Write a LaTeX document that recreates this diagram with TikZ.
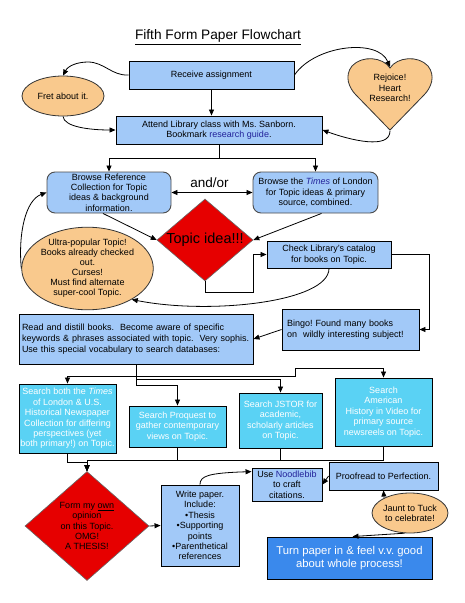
\documentclass[tikz,border=0pt]{standalone}
\usepackage{fontspec}
\setmainfont{Liberation Sans}
\usetikzlibrary{arrows.meta,shapes.geometric,calc}
\definecolor{lblue}{HTML}{A2C9F8}
\definecolor{orng}{HTML}{F9C98D}
\definecolor{dred}{HTML}{E60000}
\definecolor{cyanb}{HTML}{5AD2F4}
\definecolor{tblue}{HTML}{3A89EC}
\definecolor{linkb}{HTML}{22229A}
\newcommand\fsn{\fontsize{9}{10.4}\selectfont}
\frenchspacing
\begin{document}
\begin{tikzpicture}[x=1pt,y=-1pt,
  box/.style={draw=black, line width=0.9pt, fill=lblue, inner sep=0pt, align=center, font=\fsn},
  rbox/.style={box, draw=black!70, rounded corners=8pt},
  sbox/.style={box, fill=cyanb, text=white},
  oval/.style={ellipse, draw=black!80, line width=0.8pt, fill=orng, inner sep=0pt, align=center, font=\fsn},
  dia/.style={diamond, draw=black!60, line width=0.6pt, fill=dred, inner sep=0pt},
  lbl/.style={align=center, font=\fsn, inner sep=0pt},
  conn/.style={draw=black, line width=0.8pt, -{Triangle[length=6pt,width=5pt]}},
  dconn/.style={draw=black, line width=0.8pt, {Triangle[length=6pt,width=5pt]}-{Triangle[length=6pt,width=5pt]}}
]
\useasboundingbox (0,0) rectangle (464,603);
\fill[white] (0,0) rectangle (464,603);

% title
\node[inner sep=0pt, font=\fontsize{13.7}{16}\selectfont] (title) at (218,37) {\underline{Fifth Form Paper Flowchart}};

% top row
\node[box, minimum width=165pt, minimum height=28pt] (receive) at (211.5,75) {Receive assignment};
\node[oval, minimum width=82pt, minimum height=40pt] (fret) at (63,96) {Fret about it.};
\draw[fill=orng, draw=black!80, line width=0.8pt] (390,68) .. controls (383,57) and (362,55) .. (352,66) .. controls (344,76) and (349,88) .. (356,95) -- (390,130) -- (424,95) .. controls (431,88) and (436,76) .. (428,66) .. controls (418,55) and (397,57) .. (390,68) -- cycle;
\coordinate (heartdip) at (390,67);
\coordinate (hearttip) at (390,131);
\node[lbl] (heart) at (390,88) {Rejoice!\\Heart\\Research!};

\node[box, minimum width=206pt, minimum height=28pt] (attend) at (219,130) {Attend Library class with Ms. Sanborn.\\Bookmark \textcolor{linkb}{research guide}.};

\node[rbox, minimum width=124pt, minimum height=41pt] (bref) at (109,192.5) {Browse Reference\\Collection for Topic\\ideas \& background\\information.};
\node[rbox, minimum width=125pt, minimum height=41pt] (btimes) at (315.5,192.5) {Browse the \textcolor{linkb}{\textit{Times}} of London\\for Topic ideas \& primary\\source, combined.};
\node[lbl, font=\fontsize{13.5}{15}\selectfont] (andor) at (209.5,183) {and/or};

\node[dia, minimum width=96pt, minimum height=82pt] (topic) at (205,240) {};
\node[lbl, font=\fontsize{14.5}{16}\selectfont] (topictxt) at (topic.center) {Topic idea!!!};

\node[box, minimum width=124pt, minimum height=27pt] (check) at (329,254.5) {Check Library's catalog\\for books on Topic.};
\node[oval, minimum width=123pt, minimum height=71pt, font=\fontsize{9}{10}\selectfont] (ultra) at (87.5,268.5) {Ultra-popular Topic!\\Books already checked\\out.\\Curses!\\Must find alternate\\super-cool Topic.};

\node[box, minimum width=137pt, minimum height=41pt, align=left, text width=127pt, inner xsep=5pt] (bingo) at (350.5,329.5) {Bingo! Found many books\\on\ \ wildly interesting subject!};
\node[box, minimum width=234pt, minimum height=50pt, align=left, text width=228pt, inner xsep=3pt, font=\fontsize{9}{11}\selectfont] (read) at (136,339) {Read and distill books.\ \ Become aware of specific\\keywords \& phrases associated with topic.\ \ Very sophis.\\Use this special vocabulary to search databases:};

% search boxes
\node[sbox, minimum width=97pt, minimum height=69pt] (tsearch) at (67.5,418.5) {Search both the \textit{Times}\\of London \& U.S.\\Historical Newspaper\\Collection for differing\\perspectives (yet\\both primary!) on Topic.};
\node[sbox, minimum width=97pt, minimum height=41pt] (proq) at (177.5,426.5) {Search Proquest to\\gather contemporary\\views on Topic.};
\node[sbox, minimum width=83pt, minimum height=55pt] (jstor) at (280.5,420.5) {Search JSTOR for\\academic,\\scholarly articles\\on Topic.};
\node[sbox, minimum width=97pt, minimum height=68pt] (amer) at (383.5,412) {Search\\American\\History in Video for\\primary source\\newsreels on Topic.};

% bottom
\node[dia, minimum width=124pt, minimum height=109pt] (thesis) at (87,526) {};
\node[lbl] (thesistxt) at (thesis.center) {Form my \underline{own}\\opinion\\on this Topic.\\OMG!\\A THESIS!};
\node[box, minimum width=78pt, minimum height=81pt] (write) at (200,525.5) {Write paper.\\Include:\\\textbullet Thesis\\\textbullet Supporting\\points\\\textbullet Parenthetical\\references};
\node[box, minimum width=70pt, minimum height=33pt] (noodle) at (287,484.5) {Use \textcolor{linkb}{Noodlebib}\\to craft\\citations.};
\node[box, minimum width=109pt, minimum height=28pt] (proof) at (383.5,476) {Proofread to Perfection.};
\node[oval, minimum width=66pt, minimum height=40pt] (jaunt) at (410,513) {Jaunt to Tuck\\to celebrate!};
\node[box, fill=tblue, text=white, minimum width=165pt, minimum height=42pt, font=\fontsize{11.3}{13}\selectfont] (turn) at (349.5,558) {Turn paper in \& feel v.v. good\\about whole process!};

% connectors
\draw[conn] (receive.west) .. controls (112,76) and (104,62) .. (88,62) .. controls (77,62) and (68,66) .. (fret.north);
\draw[conn] (receive.east) .. controls (315,45) and (378,38) .. (heartdip);
\draw[conn] (receive.south) -- (receive.south |- attend.north);
\draw[conn] (fret.south) .. controls (64,127) and (90,130) .. (attend.west);
\draw[conn] (hearttip) .. controls (390,150) and (350,140) .. (attend.east);
\draw[conn] (attend.south) -- ++(0,14) -| (bref.north);
\draw[conn] (attend.south) -- ++(0,14) -| (btimes.north);
\draw[dconn] (bref.east) -- (btimes.west);
\draw[conn] ([xshift=-6pt]bref.south) -- (topic.west);
\draw[conn] ([xshift=6pt]btimes.south) -- (topic.east);
\draw[conn] (topic.south) -- ++(0,11) -- ++(48,0) |- (check.west);
\draw[conn] (check.east) -- ++(38,0) |- (bingo.east);
\draw[conn] (bingo.west) -- (read.east);
\draw[conn] (check.south) .. controls (329,302) and (210,315) .. (ultra.-35);
\draw[conn] (ultra.west) .. controls (18,232) and (26,200) .. (bref.west);

\draw[conn] (read.south) -- ++(0,12) -| (tsearch.north);
\draw[conn] (read.south) -- ++(0,12) -- ++(159,0) -- ++(0,-8) -| (amer.north);
\draw[conn] (read.south) -- ++(0,15) -| (jstor.north);
\draw[conn] (read.south) -- ++(0,21) -| (proq.north);

\draw[conn] (tsearch.south) -- ++(0,9) -| (thesis.north);
\draw[conn] (proq.south) -- ++(0,12.5) -| (thesis.north);
\draw[conn] (jstor.south) -- ++(0,11.5) -| (thesis.north);
\draw[conn] (amer.south) -- ++(0,13.5) -| (thesis.north);

\draw[conn] (thesis.east) -- (write.west);
\draw[conn] (write.north) .. controls (200,476) and (208,473) .. (noodle.160);
\draw[conn] (proof.west) -- (noodle.east);
\draw[conn] (jaunt.150) -- (proof.south);
\draw[conn] (jaunt.-105) -- ([xshift=3pt]turn.north);
\end{tikzpicture}
\end{document}
